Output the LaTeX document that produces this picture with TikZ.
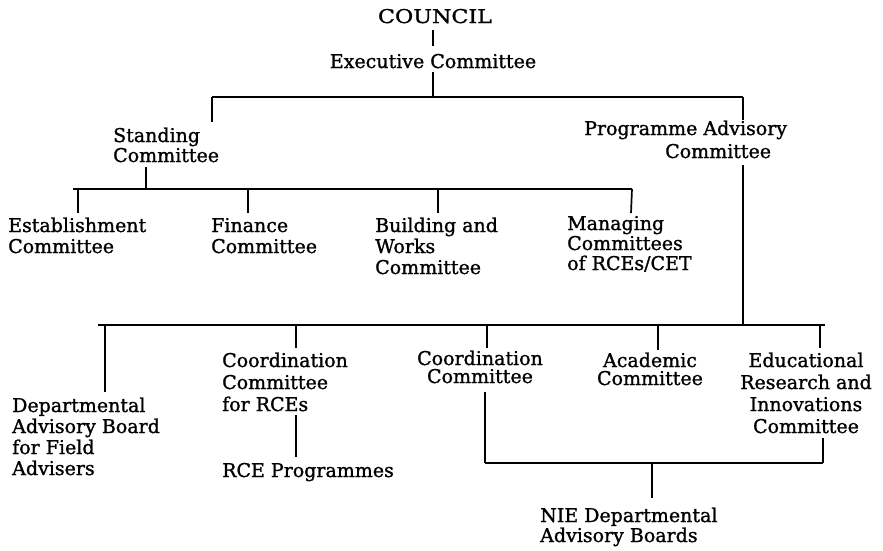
\documentclass[tikz,border=0pt]{standalone}
\usepackage{fontspec}
\setmainfont{DejaVu Serif}
\newfontfamily\lblfont{DejaVu Serif}[RawFeature={embolden=1.2}]
\begin{document}
\begin{tikzpicture}[x=1pt,y=-1pt,
  lbl/.style={inner sep=0pt,font=\lblfont\fontsize{19}{21}\selectfont},
  lblw/.style={lbl,anchor=base west,align=left},
  lblc/.style={lbl,anchor=base,align=center},
  conn/.style={line width=1.7pt}]
\useasboundingbox[fill=white] (0,0) rectangle (883,550);
% text nodes (anchor = baseline of the last line)
\node[lblc] (council) at (435,23) {\scalebox{1.17}[1]{COUNCIL}};
\node[lblc] (exec) at (433,68) {Executive Committee};
\node[lblw] (standing) at (113,162) {Standing\\[-1pt]Committee};
\node[lblw] (pac) at (584,158) {Programme Advisory\\[2pt]\hspace*{81pt}Committee};
\node[lblw] (est) at (8,253) {Establishment\\Committee};
\node[lblw] (fin) at (211,253) {Finance\\Committee};
\node[lblw] (bw) at (375,274) {Building and\\Works\\Committee};
\node[lblw] (man) at (567,270) {Managing\\[-1pt]Committees\\[-1pt]of RCEs/CET};
\node[lblw] (dep) at (12,475) {Departmental\\Advisory Board\\for Field\\Advisers};
\node[lblw] (ccr) at (222,411) {Coordination\\[1pt]Committee\\[1pt]for RCEs};
\node[lblw] (rce) at (222,477) {RCE Programmes};
\node[lblc] (ccm) at (480,383) {Coordination\\[-3pt]Committee};
\node[lblc] (acad) at (650,385) {Academic\\[-3pt]Committee};
\node[lblc] (edu) at (806,433) {Educational\\[1pt]Research and\\[1pt]Innovations\\[1pt]Committee};
\node[lblw] (nie) at (540,542) {NIE Departmental\\[-1pt]Advisory Boards};
% junction coordinates
\coordinate (cA) at (433,30);  \coordinate (cB) at (433,46);
\coordinate (eA) at (433,72);  \coordinate (eB) at (433,97);
\coordinate (b1L) at (212,97); \coordinate (b1R) at (743,97);
\coordinate (sT) at (212,122); \coordinate (pT) at (743,120);
\coordinate (sA) at (146,167); \coordinate (sB) at (146,189);
\coordinate (b2L) at (73,189); \coordinate (b2R) at (632,189);
\coordinate (pA) at (743,165); \coordinate (pB) at (743,325);
\coordinate (b3L) at (98,325); \coordinate (b3R) at (825,325);
\coordinate (rA) at (296,415); \coordinate (rB) at (296,457);
\coordinate (mA) at (485,392); \coordinate (mB) at (485,463);
\coordinate (uA) at (823,438); \coordinate (uB) at (823,463);
\coordinate (nB) at (652,498);
% connectors
\draw[conn] (cA) -- (cB);
\draw[conn] (eA) -- (eB);
\draw[conn] (b1L) -- (b1R);
\draw[conn] (b1L) -- (sT);
\draw[conn] (b1R) -- (pT);
\draw[conn] (sA) -- (sB);
\draw[conn] (b2L) -- (b2R);
\draw[conn] (78,189) -- (78,213);
\draw[conn] (248,189) -- (248,213);
\draw[conn] (438,189) -- (438,213);
\draw[conn] (b2R) -- (631,213);
\draw[conn] (pA) -- (pB);
\draw[conn] (b3L) -- (b3R);
\draw[conn] (105,325) -- (105,392);
\draw[conn] (296,325) -- (296,348);
\draw[conn] (487,325) -- (487,348);
\draw[conn] (658,325) -- (658,350);
\draw[conn] (820,325) -- (820,348);
\draw[conn] (rA) -- (rB);
\draw[conn] (mA) -- (mB);
\draw[conn] (uA) -- (uB);
\draw[conn] (mB) -- (uB);
\draw[conn] (652,463) -- (nB);
\end{tikzpicture}
\end{document}
